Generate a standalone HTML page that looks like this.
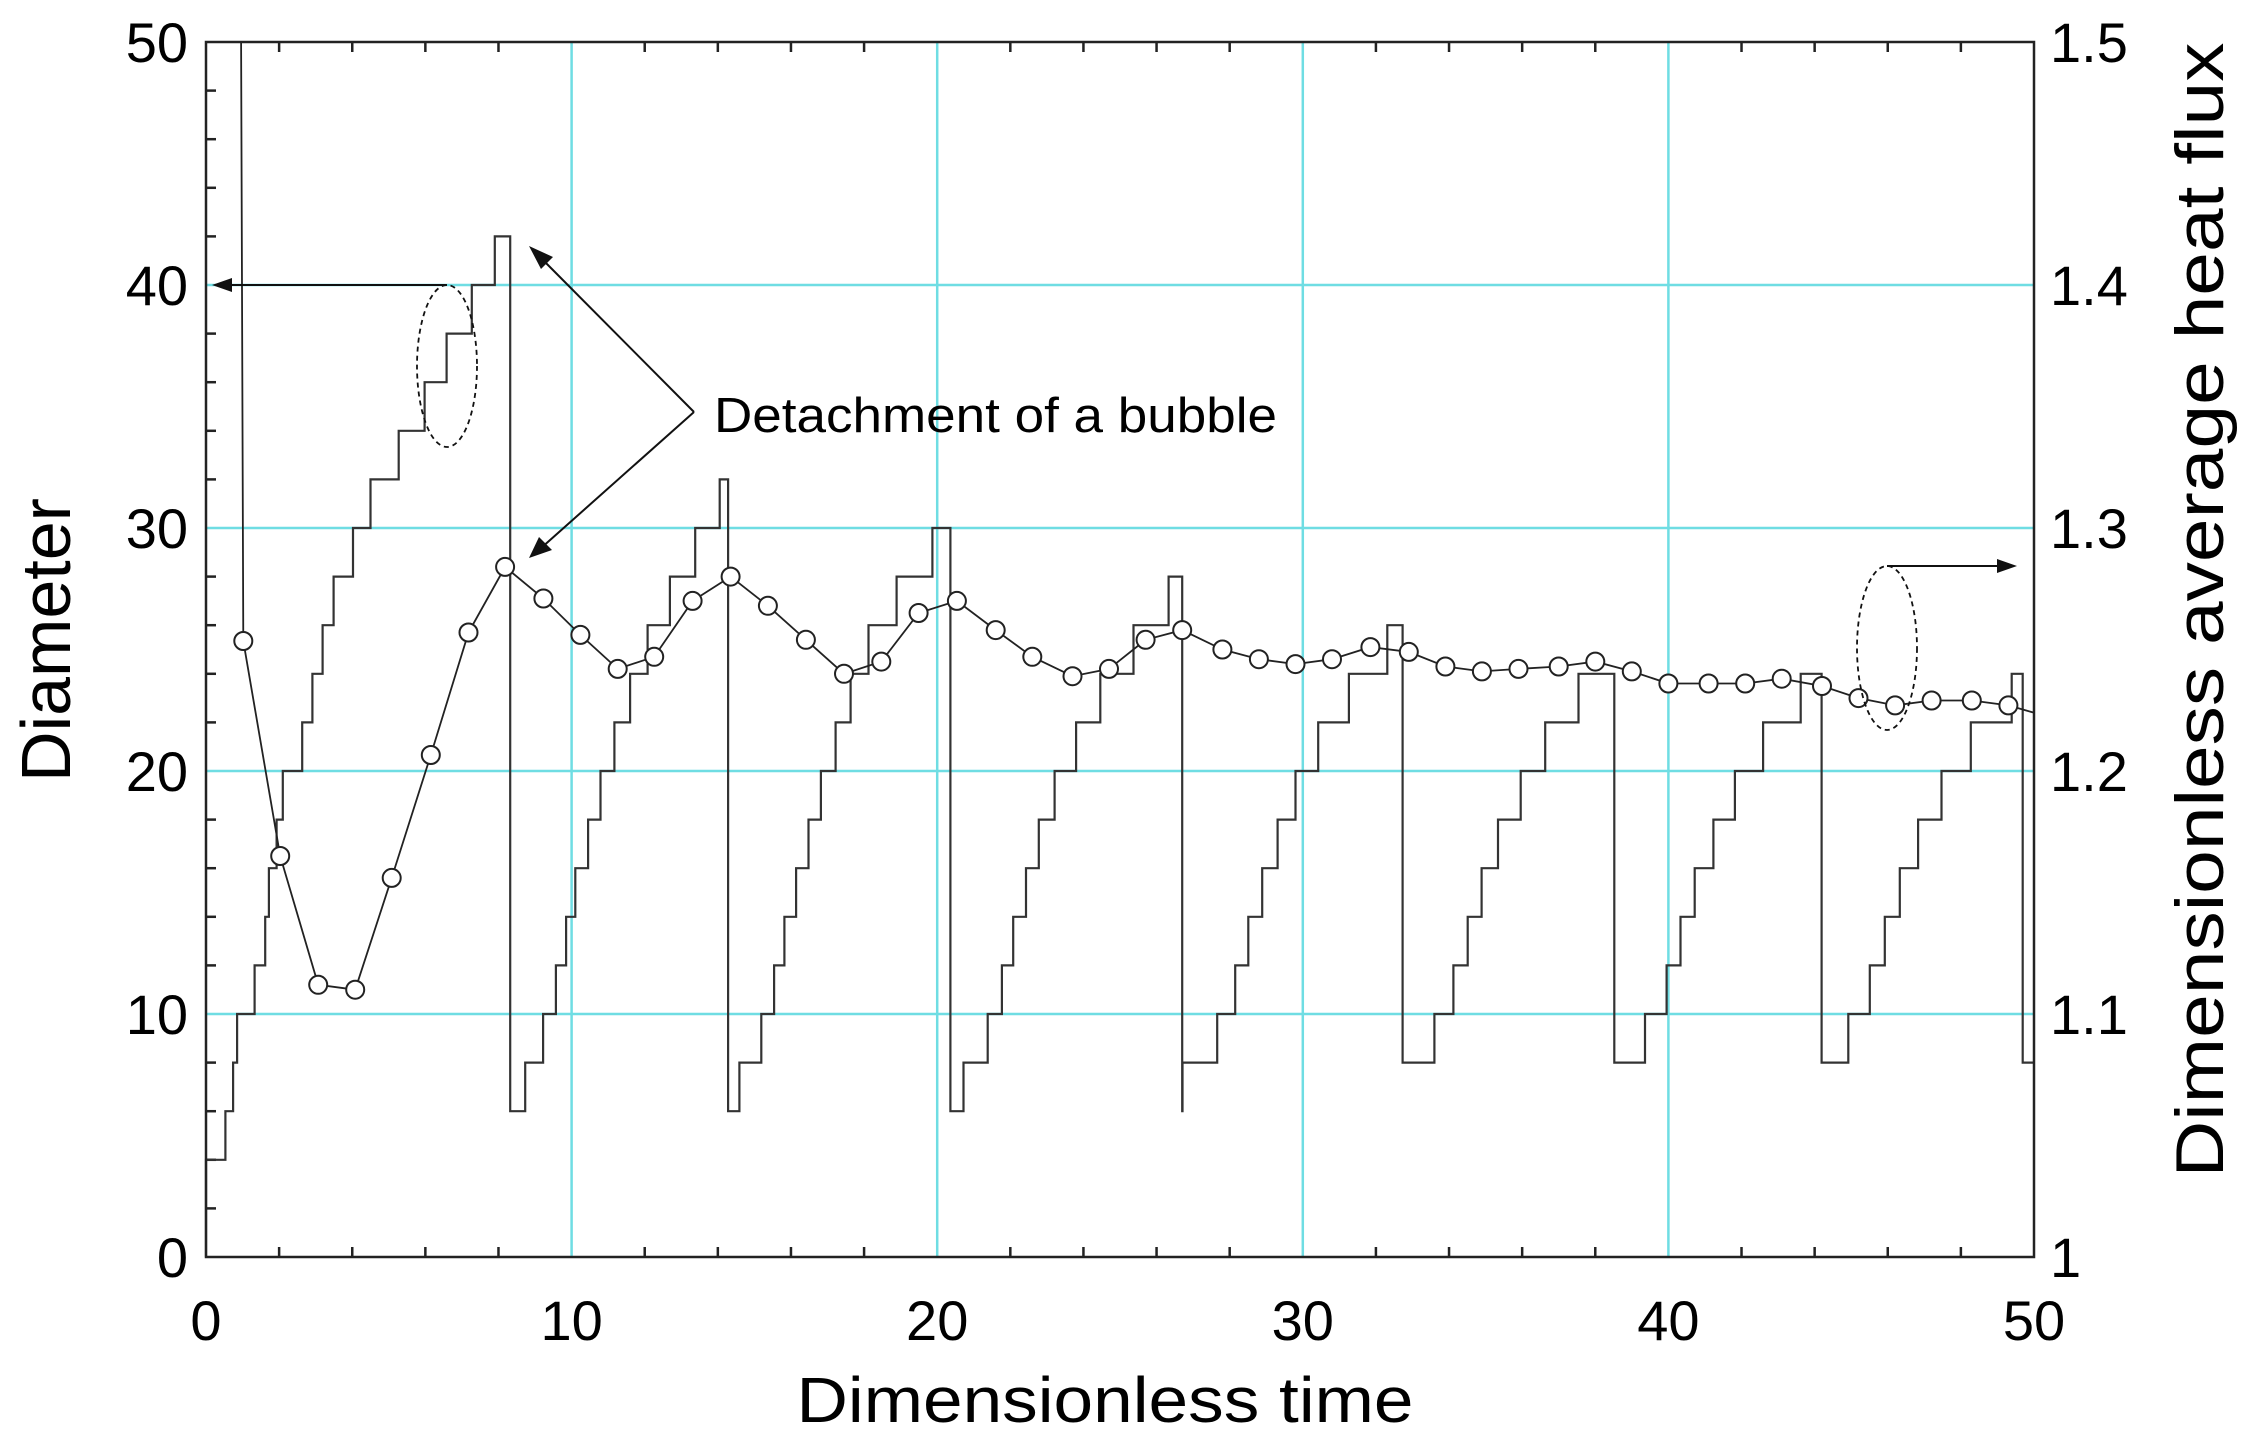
<!DOCTYPE html>
<html><head><meta charset="utf-8"><style>
html,body{margin:0;padding:0;background:#fff;}
svg{display:block;}
text{font-family:"Liberation Sans",Arial,sans-serif;fill:#000;}
</style></head><body>
<svg id="s" width="2255" height="1437" viewBox="0 0 2255 1437" xmlns="http://www.w3.org/2000/svg">
<g id="grid" stroke="#6fdde3" stroke-width="2.5"></g>
<g id="ticks" stroke="#222" stroke-width="2.5"></g>
<path id="stairs" fill="none" stroke="#333" stroke-width="2.2"/>
<path id="flux" fill="none" stroke="#222" stroke-width="1.8"/>
<g id="circ" fill="#fff" stroke="#222" stroke-width="2"></g>
<rect x="206" y="42" width="1828" height="1215" fill="none" stroke="#222" stroke-width="2.5"/>
<g id="labels" font-size="56"></g>
<text x="1105" y="1422" font-size="64" text-anchor="middle" textLength="617" lengthAdjust="spacingAndGlyphs">Dimensionless time</text>
<text transform="translate(70,640) rotate(-90)" font-size="70" text-anchor="middle">Diameter</text>
<text transform="translate(2223,610) rotate(-90)" font-size="68" text-anchor="middle" textLength="1135" lengthAdjust="spacingAndGlyphs">Dimensionless average heat flux</text>
<text x="714" y="432" font-size="49" textLength="563" lengthAdjust="spacingAndGlyphs">Detachment of a bubble</text>
<g stroke="#111" stroke-width="2" fill="none">
<line x1="694" y1="412" x2="540" y2="257"/>
<line x1="694" y1="412" x2="540" y2="549"/>
<line x1="447" y1="285" x2="226" y2="285"/>
<line x1="1887" y1="566" x2="2000" y2="566"/>
<ellipse cx="447" cy="366" rx="30" ry="81" stroke-dasharray="5,4" stroke-width="1.8"/>
<ellipse cx="1887" cy="648" rx="30" ry="82" stroke-dasharray="5,4" stroke-width="1.8"/>
</g>
<g fill="#111">
<polygon points="529,246 553,257 541,269"/>
<polygon points="529,558 539,537 552,550"/>
<polygon points="212,285 232,278 232,292"/>
<polygon points="2017,566 1997,559 1997,573"/>
</g>
</svg>
<script>
var L=206,R=2034,T=42,B=1257;
function X(x){return L+(R-L)*x/50;}
function Y(y){return B-(B-T)*y/50;}
var ns="http://www.w3.org/2000/svg";
function el(p,n,a){var e=document.createElementNS(ns,n);for(var k in a)e.setAttribute(k,a[k]);document.getElementById(p).appendChild(e);return e;}
for(var i=10;i<50;i+=10){el("grid","line",{x1:X(i),x2:X(i),y1:T,y2:B});el("grid","line",{x1:L,x2:R,y1:Y(i),y2:Y(i)});}
for(var i=2;i<50;i+=2){if(i%10==0)continue;
el("ticks","line",{x1:X(i),x2:X(i),y1:B,y2:B-10});
el("ticks","line",{x1:X(i),x2:X(i),y1:T,y2:T+10});
el("ticks","line",{x1:L,x2:L+10,y1:Y(i),y2:Y(i)});}
for(var i=0;i<=50;i+=10){
var t=el("labels","text",{x:X(i),y:1340,"text-anchor":"middle"});t.textContent=i;
t=el("labels","text",{x:188,y:Y(i)+20,"text-anchor":"end"});t.textContent=i;
t=el("labels","text",{x:2050,y:Y(i)+20});t.textContent=(i==0?"1":i==50?"1.5":(1+i/100).toFixed(1));}
var st=[[0.03,4],[0.53,6],[0.74,8],[0.85,10],[1.33,12],[1.62,14],[1.72,16],[1.93,18],[2.10,20],[2.63,22],[2.91,24],[3.19,26],[3.49,28],[4.02,30],[4.5,32],[5.27,34],[5.98,36],[6.58,38],[7.27,40],[7.9,42],
[8.32,6],[8.73,8],[9.22,10],[9.57,12],[9.85,14],[10.1,16],[10.45,18],[10.79,20],[11.17,22],[11.6,24],[12.08,26],[12.69,28],[13.38,30],[14.05,32],
[14.28,6],[14.59,8],[15.19,10],[15.54,12],[15.82,14],[16.14,16],[16.48,18],[16.82,20],[17.22,22],[17.63,24],[18.12,26],[18.89,28],[19.87,30],
[20.36,6],[20.72,8],[21.38,10],[21.77,12],[22.08,14],[22.43,16],[22.78,18],[23.21,20],[23.8,22],[24.46,24],[25.37,26],[26.33,28],
[26.7,6],[26.71,8],[27.66,10],[28.15,12],[28.51,14],[28.89,16],[29.31,18],[29.8,20],[30.42,22],[31.26,24],[32.31,26],
[32.73,8],[33.6,10],[34.12,12],[34.51,14],[34.89,16],[35.34,18],[35.96,20],[36.63,22],[37.54,24],
[38.52,8],[39.36,10],[39.95,12],[40.33,14],[40.72,16],[41.23,18],[41.82,20],[42.59,22],[43.62,24],
[44.19,8],[44.92,10],[45.51,12],[45.92,14],[46.33,16],[46.83,18],[47.47,20],[48.27,22],[49.39,24],[49.69,8]];
var d="M"+X(0)+","+Y(0)+" V"+Y(4);
for(var i=0;i<st.length;i++){d+=" H"+X(st[i][0]).toFixed(1)+" V"+Y(st[i][1]).toFixed(1);}
d+=" H"+X(50);
document.getElementById("stairs").setAttribute("d",d);
var c=[[1.02,25.35],[2.03,16.5],[3.07,11.2],[4.08,11.0],[5.08,15.6],[6.15,20.66],[7.18,25.7],[8.18,28.4],[9.23,27.1],[10.24,25.6],[11.26,24.2],[12.26,24.7],[13.31,27.0],[14.35,28.0],[15.37,26.8],[16.41,25.4],[17.45,24.0],[18.47,24.5],[19.49,26.5],[20.54,27.0],
[21.6,25.8],[22.6,24.7],[23.7,23.9],[24.7,24.2],[25.7,25.4],[26.7,25.8],[27.8,25.0],[28.8,24.6],[29.8,24.4],[30.8,24.6],[31.85,25.1],[32.9,24.9],[33.9,24.3],[34.9,24.1],[35.9,24.2],[37.0,24.3],[38.0,24.5],[39.0,24.1],[40.0,23.6],[41.1,23.6],[42.1,23.6],[43.1,23.8],[44.2,23.5],[45.2,23.0],[46.2,22.7],[47.2,22.9],[48.3,22.9],[49.3,22.7]];
var f="M"+X(0.96)+","+T+" L"+X(c[0][0])+","+Y(c[0][1]);
for(var i=0;i<c.length;i++){f+=" L"+X(c[i][0]).toFixed(1)+","+Y(c[i][1]).toFixed(1);
el("circ","circle",{cx:X(c[i][0]).toFixed(1),cy:Y(c[i][1]).toFixed(1),r:9});}
f+=" L"+X(50)+","+Y(22.4);
document.getElementById("flux").setAttribute("d",f);
</script>
</body></html>
